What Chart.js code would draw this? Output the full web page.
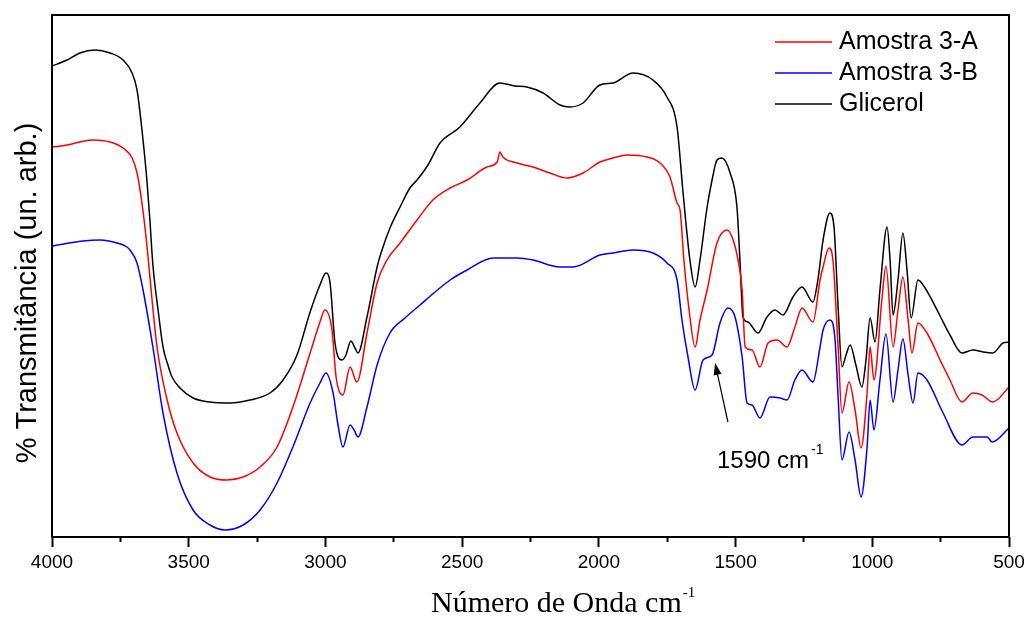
<!DOCTYPE html>
<html>
<head>
<meta charset="utf-8">
<script src="https://cdn.jsdelivr.net/npm/chart.js@4.4.1/dist/chart.umd.min.js"></script>
<style>
  html, body { margin: 0; padding: 0; background: #fff; }
  canvas { display: block; }
</style>
</head>
<body>
<canvas id="ftir" width="1029" height="625"></canvas>
<script>
// FTIR spectra – wavenumber (cm-1) vs transmittance (arbitrary units, curves offset)
const xTicks = [4000, 3500, 3000, 2500, 2000, 1500, 1000, 500];

const wnA = [4000, 3945, 3898, 3850, 3788, 3740, 3707, 3689, 3671, 3653, 3634, 3616, 3579, 3543, 3484, 3422, 3360, 3301, 3239, 3177, 3119, 3056, 3020, 3002, 2976, 2961, 2936, 2910, 2885, 2848, 2811, 2775, 2727, 2665, 2607, 2544, 2482, 2409, 2372, 2362, 2351, 2299, 2241, 2179, 2117, 2058, 1996, 1948, 1897, 1824, 1776, 1740, 1714, 1703, 1689, 1670, 1648, 1630, 1604, 1568, 1531, 1509, 1491, 1476, 1465, 1440, 1411, 1381, 1348, 1312, 1283, 1257, 1217, 1191, 1180, 1158, 1144, 1125, 1111, 1085, 1063, 1041, 1019, 1008, 994, 964, 950, 924, 906, 888, 869, 855, 833, 800, 752, 716, 672, 632, 599, 559, 500];
const tA = [390, 392, 395, 397, 395, 389, 379, 364, 334, 292, 237, 190, 137, 104, 74, 60, 57, 60, 70, 90, 130, 184, 215, 227, 207, 160, 142, 170, 155, 204, 254, 277, 294, 317, 337, 349, 357, 370, 375, 385, 380, 374, 370, 364, 359, 364, 375, 379, 382, 380, 374, 360, 334, 327, 277, 227, 190, 217, 247, 294, 307, 297, 277, 247, 190, 187, 170, 194, 197, 190, 210, 229, 215, 257, 270, 289, 277, 190, 124, 155, 127, 89, 144, 190, 157, 240, 271, 190, 227, 260, 217, 184, 214, 204, 177, 157, 135, 144, 142, 135, 150];

const wnB = [4000, 3887, 3824, 3762, 3726, 3715, 3689, 3667, 3631, 3594, 3543, 3484, 3422, 3367, 3301, 3239, 3177, 3119, 3056, 3020, 2998, 2972, 2954, 2936, 2910, 2895, 2881, 2848, 2811, 2764, 2709, 2654, 2599, 2544, 2482, 2387, 2299, 2241, 2142, 2094, 1996, 1948, 1875, 1802, 1751, 1714, 1696, 1674, 1648, 1619, 1586, 1557, 1528, 1502, 1476, 1458, 1440, 1411, 1374, 1337, 1312, 1283, 1257, 1217, 1191, 1180, 1155, 1137, 1125, 1111, 1085, 1063, 1041, 1019, 1008, 994, 972, 950, 924, 906, 888, 869, 851, 833, 800, 741, 672, 632, 580, 562, 500];
const tB = [291, 296, 297, 294, 290, 287, 274, 247, 190, 124, 64, 27, 12, 7, 12, 27, 54, 90, 134, 154, 164, 144, 112, 90, 112, 107, 100, 130, 172, 204, 219, 232, 245, 257, 267, 279, 279, 277, 270, 270, 282, 284, 287, 284, 274, 257, 217, 180, 147, 177, 182, 214, 229, 220, 180, 134, 132, 119, 140, 139, 137, 157, 167, 155, 190, 207, 217, 200, 140, 77, 105, 77, 40, 90, 137, 107, 157, 203, 135, 167, 198, 162, 134, 164, 157, 124, 92, 100, 100, 95, 109];

const wnGly = [4000, 3945, 3898, 3843, 3788, 3740, 3707, 3689, 3671, 3653, 3642, 3631, 3612, 3594, 3576, 3561, 3532, 3484, 3422, 3349, 3276, 3203, 3155, 3104, 3056, 3020, 2998, 2983, 2965, 2939, 2925, 2907, 2892, 2881, 2848, 2811, 2793, 2764, 2727, 2691, 2665, 2625, 2581, 2508, 2435, 2362, 2307, 2263, 2204, 2142, 2106, 2058, 1996, 1948, 1875, 1802, 1751, 1714, 1692, 1667, 1648, 1630, 1604, 1586, 1568, 1550, 1520, 1495, 1484, 1473, 1455, 1418, 1385, 1356, 1327, 1290, 1257, 1217, 1199, 1180, 1155, 1140, 1125, 1111, 1096, 1081, 1060, 1038, 1023, 1008, 990, 972, 946, 935, 924, 906, 888, 873, 858, 833, 807, 752, 716, 672, 632, 595, 559, 522, 500];
const tGly = [471, 477, 484, 487, 484, 477, 464, 447, 407, 357, 317, 272, 227, 190, 172, 160, 149, 139, 135, 134, 137, 144, 157, 182, 225, 252, 264, 254, 194, 177, 182, 196, 189, 184, 220, 270, 287, 309, 330, 349, 357, 372, 394, 410, 434, 454, 451, 450, 444, 432, 430, 434, 452, 454, 464, 457, 440, 410, 344, 277, 250, 277, 330, 357, 377, 379, 364, 330, 277, 220, 215, 204, 220, 227, 222, 240, 250, 235, 257, 297, 324, 310, 230, 170, 182, 192, 172, 150, 177, 219, 195, 247, 310, 277, 222, 257, 304, 267, 219, 257, 249, 221, 202, 184, 187, 185, 184, 194, 195];

const seriesNames = ['Amostra 3-A', 'Amostra 3-B', 'Glicerol'];
const seriesColors = ['#ff0000', '#0000ff', '#000000'];

// position of the 1590 cm-1 note (data coordinates)
const noteArrowFrom = [1528, 115];
const noteArrowTo = [1575, 174];
const noteText = [1568, 69];

function toPoints(xs, ys) {
  return xs.map((x, i) => ({ x: x, y: ys[i] }));
}

function lineSet(label, color, xs, ys) {
  return {
    label: label,
    data: toPoints(xs, ys),
    borderColor: color,
    borderWidth: 1.5,
    pointRadius: 0,
    cubicInterpolationMode: 'monotone',
    fill: false,
  };
}

const framePlugin = {
  id: 'frame',
  afterDraw(chart) {
    const { ctx, chartArea: a, scales } = chart;
    ctx.save();

    // plot box
    ctx.strokeStyle = '#000';
    ctx.lineWidth = 2;
    ctx.strokeRect(a.left, a.top, a.right - a.left, a.bottom - a.top);

    // legend
    ctx.font = '25px Arial, "Liberation Sans", sans-serif';
    ctx.textBaseline = 'middle';
    ctx.textAlign = 'left';
    const legY = [42, 73, 104];
    seriesNames.forEach((name, i) => {
      ctx.strokeStyle = seriesColors[i];
      ctx.lineWidth = 1.5;
      ctx.beginPath();
      ctx.moveTo(775, legY[i]);
      ctx.lineTo(832, legY[i]);
      ctx.stroke();
      ctx.fillStyle = '#000';
      ctx.fillText(name, 839, legY[i]);
    });

    // arrow + 1590 cm-1 label
    const x = scales.x, y = scales.y;
    const x1 = x.getPixelForValue(noteArrowFrom[0]), y1 = y.getPixelForValue(noteArrowFrom[1]);
    const x2 = x.getPixelForValue(noteArrowTo[0]), y2 = y.getPixelForValue(noteArrowTo[1]);
    const ang = Math.atan2(y2 - y1, x2 - x1);
    ctx.strokeStyle = '#000';
    ctx.fillStyle = '#000';
    ctx.lineWidth = 1.2;
    ctx.beginPath();
    ctx.moveTo(x1, y1);
    ctx.lineTo(x2 - 8 * Math.cos(ang), y2 - 8 * Math.sin(ang));
    ctx.stroke();
    ctx.beginPath();
    ctx.moveTo(x2, y2);
    ctx.lineTo(x2 - 12 * Math.cos(ang) + 4 * Math.sin(ang), y2 - 12 * Math.sin(ang) - 4 * Math.cos(ang));
    ctx.lineTo(x2 - 12 * Math.cos(ang) - 4 * Math.sin(ang), y2 - 12 * Math.sin(ang) + 4 * Math.cos(ang));
    ctx.closePath();
    ctx.fill();

    const tx = x.getPixelForValue(noteText[0]), ty = y.getPixelForValue(noteText[1]);
    ctx.textBaseline = 'alphabetic';
    ctx.font = '24px Arial, "Liberation Sans", sans-serif';
    ctx.fillText('1590 cm', tx, ty);
    const w = ctx.measureText('1590 cm').width;
    ctx.font = '14px Arial, "Liberation Sans", sans-serif';
    ctx.fillText('-1', tx + w + 2, ty - 14);

    // x title
    ctx.fillStyle = '#000';
    ctx.font = '30px "Liberation Serif", "Times New Roman", serif';
    ctx.fillText('Número de Onda cm', 431, 612);
    const wt = ctx.measureText('Número de Onda cm').width;
    ctx.font = '15px "Liberation Serif", "Times New Roman", serif';
    ctx.fillText('-1', 431 + wt + 1, 597);

    // y title
    ctx.translate(36, 293);
    ctx.rotate(-Math.PI / 2);
    ctx.textAlign = 'center';
    ctx.font = '29px Arial, "Liberation Sans", sans-serif';
    ctx.fillText('% Transmitância (un. arb.)', 0, 0);

    ctx.restore();
  },
};

new Chart(document.getElementById('ftir'), {
  type: 'line',
  data: {
    datasets: [
      lineSet(seriesNames[1], seriesColors[1], wnB, tB),
      lineSet(seriesNames[0], seriesColors[0], wnA, tA),
      lineSet(seriesNames[2], seriesColors[2], wnGly, tGly),
    ],
  },
  options: {
    responsive: false,
    animation: false,
    layout: { padding: { left: 52, top: 15, right: 20, bottom: 0 } },
    plugins: { legend: { display: false }, tooltip: { enabled: false } },
    scales: {
      x: {
        type: 'linear',
        reverse: true,
        min: 500,
        max: 4000,
        afterFit(scale) { scale.height = 88; },
        border: { display: false },
        grid: {
          drawOnChartArea: false,
          drawTicks: true,
          tickLength: 10,
          tickWidth: 2,
          tickColor: '#000',
          tickBorderDash: (ctx) => (ctx.tick && ctx.tick.value % 500 !== 0 ? [5, 30] : []),
        },
        ticks: {
          stepSize: 250,
          autoSkip: false,
          maxRotation: 0,
          padding: 4,
          color: '#000',
          font: { family: 'Arial, "Liberation Sans", sans-serif', size: 19 },
          callback: (v) => (xTicks.includes(v) ? String(v) : ''),
        },
      },
      y: {
        display: false,
        min: 0,
        max: 522,
      },
    },
  },
  plugins: [framePlugin],
});
</script>
</body>
</html>
